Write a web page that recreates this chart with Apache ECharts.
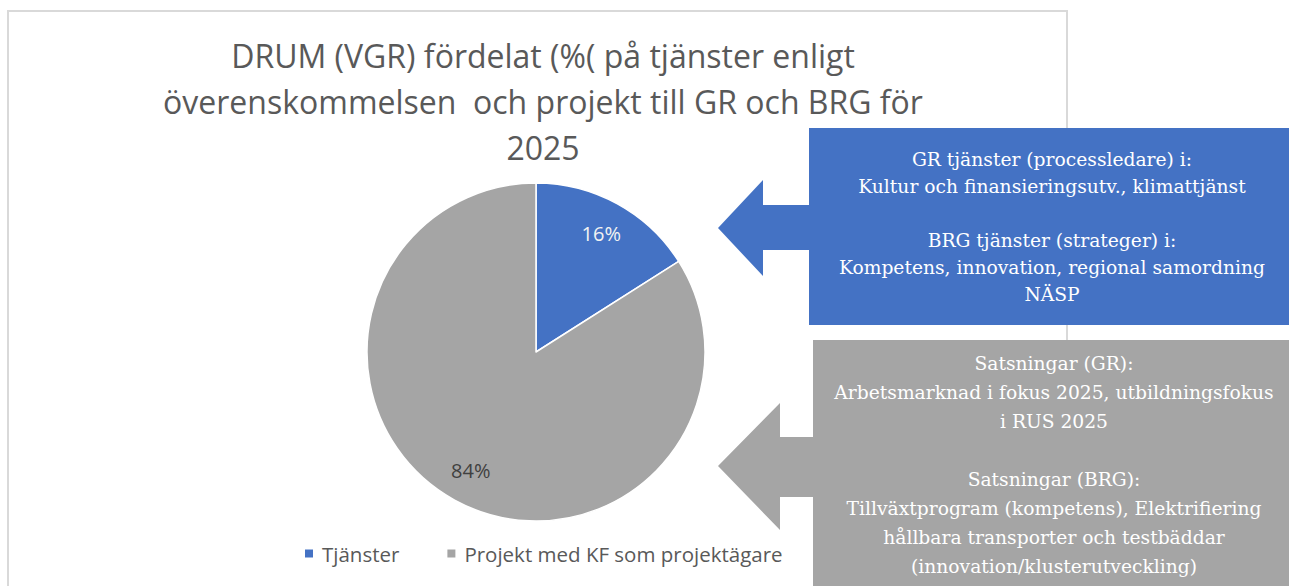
<!DOCTYPE html>
<html>
<head>
<meta charset="utf-8">
<script src="https://cdn.jsdelivr.net/npm/echarts@6/dist/echarts.min.js"></script>
<style>
  html, body { margin: 0; padding: 0; background: #fff; }
  #chart { width: 1289px; height: 586px; }
</style>
</head>
<body>
<div id="chart"></div>
<script>
// data
const kategorier = ['Tjänster', 'Projekt med KF som projektägare'];
const andelar = [16, 84];
const farger = ['#4472C4', '#A5A5A5'];
const etikettFarger = ['#F2F2F2', '#404040'];

const titelRader = [
    'DRUM (VGR) fördelat (%( på tjänster enligt',
    'överenskommelsen  och projekt till GR och BRG för',
    '2025'
];
const blaText = [
    'GR tjänster (processledare) i:',
    'Kultur och finansieringsutv., klimattjänst',
    '',
    'BRG tjänster (strateger) i:',
    'Kompetens, innovation, regional samordning',
    'NÄSP'
];
const gratText = [
    'Satsningar (GR):',
    'Arbetsmarknad i fokus 2025, utbildningsfokus',
    'i RUS 2025',
    '',
    'Satsningar (BRG):',
    'Tillväxtprogram (kompetens), Elektrifiering',
    'hållbara transporter och testbäddar',
    '(innovation/klusterutveckling)'
];

const sans = '"Open Sans", "Liberation Sans", sans-serif';
const serif = '"DejaVu Serif", "Liberation Serif", serif';

const chart = echarts.init(document.getElementById('chart'), null, { renderer: 'svg' });

const pieData = kategorier.map((namn, i) => ({
    name: namn,
    value: andelar[i],
    itemStyle: { color: farger[i] }
}));

// osynlig ring bara för etiketterna (Excel lägger dem längre ut än mitten)
const etikettData = kategorier.map((namn, i) => ({
    name: 'etikett ' + namn,
    value: andelar[i],
    itemStyle: { color: 'rgba(0,0,0,0)' },
    label: { color: etikettFarger[i] }
}));

const option = {
    backgroundColor: '#fff',
    animation: false,
    title: {
        text: titelRader.join('\n'),
        left: 538,
        top: 27,
        textAlign: 'center',
        textStyle: {
            fontFamily: sans,
            fontSize: 32,
            fontWeight: 'normal',
            color: '#595959',
            lineHeight: 46
        }
    },
    legend: {
        data: kategorier,
        left: 298,
        top: 538,
        icon: 'rect',
        itemWidth: 10,
        itemHeight: 10,
        itemGap: 46,
        textStyle: {
            fontFamily: sans,
            fontSize: 20.5,
            color: '#595959',
            padding: [0, 0, 0, 3]
        }
    },
    series: [
        {
            type: 'pie',
            center: [536, 352],
            radius: [0, 169],
            startAngle: 90,
            data: pieData,
            label: { show: false },
            labelLine: { show: false },
            itemStyle: { borderColor: '#fff', borderWidth: 1.5 },
            silent: true
        },
        {
            type: 'pie',
            center: [536, 352],
            radius: [96, 169],
            startAngle: 90,
            data: etikettData,
            silent: true,
            label: {
                show: true,
                position: 'inside',
                formatter: '{c}%',
                fontFamily: sans,
                fontSize: 20
            },
            labelLine: { show: false }
        }
    ],
    graphic: [
        // ram runt diagramytan
        {
            type: 'rect',
            shape: { x: 8, y: 11, width: 1059, height: 590 },
            style: { fill: 'none', stroke: '#D9D9D9', lineWidth: 2 },
            z: 0
        },
        // blå pil
        {
            type: 'polygon',
            shape: {
                points: [[718, 228], [763, 180], [763, 205], [809, 205], [809, 128],
                    [1289, 128], [1289, 325], [809, 325], [809, 250], [763, 250], [763, 276]]
            },
            style: { fill: '#4472C4' },
            z: 10
        },
        {
            type: 'text',
            z: 11,
            style: {
                text: blaText.join('\n'),
                x: 1052,
                y: 227,
                align: 'center',
                verticalAlign: 'middle',
                fill: '#FFFFFF',
                fontFamily: serif,
                fontSize: 18.7,
                lineHeight: 27
            }
        },
        // grå pil
        {
            type: 'polygon',
            shape: {
                points: [[718, 466], [780, 403], [780, 437], [813, 437], [813, 340],
                    [1289, 340], [1289, 600], [813, 600], [813, 497], [780, 497], [780, 530]]
            },
            style: { fill: '#A5A5A5' },
            z: 10
        },
        {
            type: 'text',
            z: 11,
            style: {
                text: gratText.join('\n'),
                x: 1054,
                y: 465,
                align: 'center',
                verticalAlign: 'middle',
                fill: '#FFFFFF',
                fontFamily: serif,
                fontSize: 18.7,
                lineHeight: 29
            }
        }
    ]
};

chart.setOption(option);
</script>
</body>
</html>
